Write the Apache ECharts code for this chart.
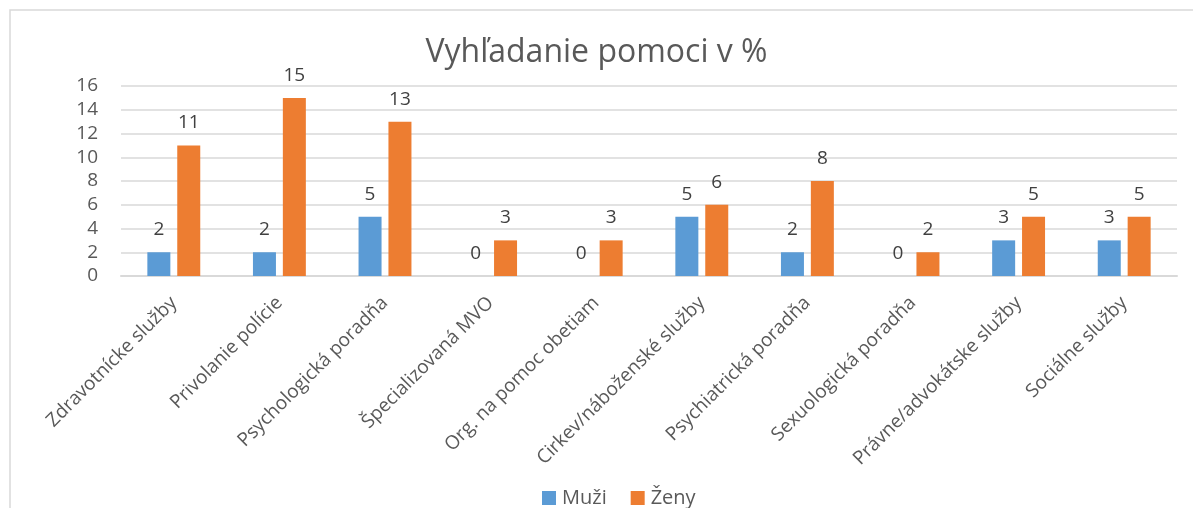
<!DOCTYPE html>
<html><head><meta charset="utf-8">
<script src="https://cdn.jsdelivr.net/npm/echarts@6/dist/echarts.min.js"></script>
<style>html,body{margin:0;padding:0;background:#fff}#c{width:1193px;height:508px}</style>
</head><body><div id="c"></div>
<script>
const categories = ["Zdravotnícke služby","Privolanie polície","Psychologická poradňa","Špecializovaná MVO","Org. na pomoc obetiam","Cirkev/náboženské služby","Psychiatrická poradňa","Sexuologická poradňa","Právne/advokátske služby","Sociálne služby"];
const muzi = [2,2,5,0,0,5,2,0,3,3];
const zeny = [11,15,13,3,3,6,8,2,5,5];
const FONT = "'Open Sans', 'Noto Sans', sans-serif";
const chart = echarts.init(document.getElementById('c'));
const lbl = {show:true, position:'top', color:'#404040', fontSize:19, fontFamily:FONT, distance:13};
chart.setOption({
  animation:false,
  graphic:[{type:'polyline', shape:{points:[[10,520],[10,10],[1200,10]]}, style:{stroke:'#d9d9d9', lineWidth:1.5, fill:null}}],
  title:{text:'Vyhľadanie pomoci v %', left:'center', top:32, textStyle:{color:'#595959', fontSize:32, fontWeight:'normal', fontFamily:FONT}},
  legend:{top:483, left:537, itemWidth:14, itemHeight:14, itemGap:24, icon:'rect', textStyle:{color:'#595959', fontSize:20, fontFamily:FONT, padding:[0,0,0,1]}, data:['Muži','Ženy']},
  grid:{left:121, right:16, top:86, bottom:232},
  xAxis:{type:'category', data:categories, axisTick:{show:false}, axisLine:{lineStyle:{color:'#d9d9d9', width:2}},
    axisLabel:{rotate:45, interval:0, color:'#595959', fontSize:19, fontFamily:FONT, margin:24}},
  yAxis:{type:'value', min:0, max:16, interval:2, axisLine:{show:false}, axisTick:{show:false},
    splitLine:{lineStyle:{color:'#d9d9d9', width:1.5}},
    axisLabel:{color:'#595959', fontSize:19, fontFamily:FONT, margin:23}},
  series:[
    {name:'Muži', type:'bar', data:muzi, barWidth:23, barGap:'30%', itemStyle:{color:'#5b9bd5'}, label:lbl},
    {name:'Ženy', type:'bar', data:zeny, barWidth:23, barGap:'30%', itemStyle:{color:'#ed7d31'}, label:lbl}
  ]
});
</script></body></html>
